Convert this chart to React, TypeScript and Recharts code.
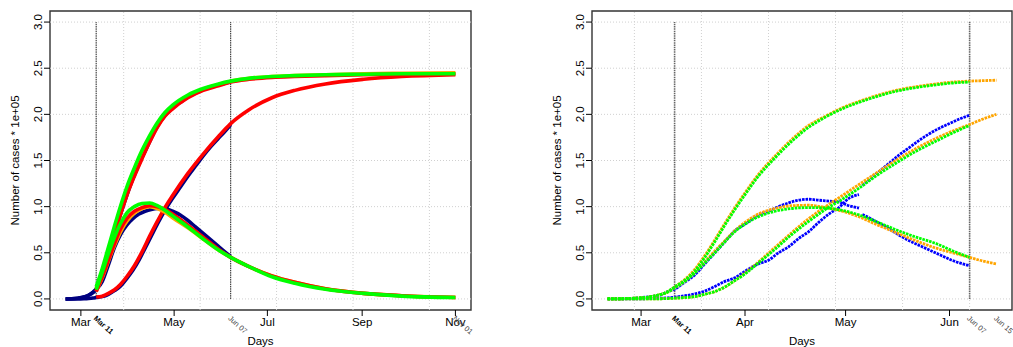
import { LineChart, Line, XAxis, YAxis, ReferenceLine, ReferenceArea } from "recharts"

const FONT = '"Liberation Sans", Arial, Helvetica, sans-serif'

// y axis shared by both panels (cases * 1e+05)
const Y_TICKS = [0, 0.5, 1, 1.5, 2, 2.5, 3]
const Y_DOMAIN = [-0.12, 3.12]

// days counted from Mar 1 2020
const LEFT_MONTHS = [0, 61, 122, 184, 245]
const LEFT_MONTH_LABELS = ["Mar", "May", "Jul", "Sep", "Nov"]
const LEFT_MARKS = [10, 98, 245]
const LEFT_MARK_LABELS = ["Mar 11", "Jun 07", "Nov 01"]
const LEFT_GRID = [28, 78, 128, 178, 228]
const LEFT_VLINES = [10, 98]

const RIGHT_MONTHS = [0, 31, 61, 92]
const RIGHT_MONTH_LABELS = ["Mar", "Apr", "May", "Jun"]
const RIGHT_MARKS = [10, 98, 106]
const RIGHT_MARK_LABELS = ["Mar 11", "Jun 07", "Jun 15"]
const RIGHT_GRID = [-2, 18, 38, 58, 78, 98]
const RIGHT_VLINES = [10, 98]

// ---- left panel: fits out to Nov 01
const LEFT_FIT_DAYS = [10, 14, 18, 22, 26, 30, 35, 40, 45, 50, 55, 60, 70, 80, 90, 98, 110, 125, 140, 160, 185, 210, 245]
const leftRedTotal = [0.1, 0.27, 0.48, 0.7, 0.92, 1.12, 1.33, 1.52, 1.7, 1.86, 1.98, 2.06, 2.18, 2.26, 2.31, 2.35, 2.38, 2.4, 2.41, 2.42, 2.43, 2.435, 2.44]
const leftOrangeTotal = [0.11, 0.29, 0.5, 0.72, 0.94, 1.14, 1.35, 1.54, 1.72, 1.87, 1.99, 2.07, 2.19, 2.27, 2.32, 2.36, 2.39, 2.41, 2.42, 2.43, 2.44, 2.445, 2.45]
const leftGreenTotal = [0.13, 0.33, 0.56, 0.79, 1.01, 1.21, 1.42, 1.61, 1.77, 1.91, 2.02, 2.1, 2.21, 2.28, 2.33, 2.36, 2.39, 2.41, 2.42, 2.43, 2.435, 2.44, 2.44]
const leftRedRemoved = [0.02, 0.03, 0.06, 0.1, 0.16, 0.24, 0.36, 0.51, 0.68, 0.84, 0.99, 1.12, 1.36, 1.57, 1.76, 1.9, 2.05, 2.18, 2.26, 2.33, 2.38, 2.41, 2.43]
const leftRedActive = [0.08, 0.24, 0.42, 0.6, 0.76, 0.87, 0.95, 0.99, 1.01, 1.0, 0.97, 0.92, 0.8, 0.67, 0.54, 0.45, 0.35, 0.25, 0.18, 0.11, 0.06, 0.035, 0.015]
const leftOrangeActive = [0.08, 0.23, 0.41, 0.58, 0.73, 0.84, 0.93, 0.98, 1.0, 0.98, 0.94, 0.88, 0.77, 0.65, 0.53, 0.45, 0.35, 0.25, 0.18, 0.11, 0.06, 0.035, 0.017]
const leftGreenActive = [0.1, 0.29, 0.49, 0.67, 0.82, 0.93, 1.0, 1.035, 1.04, 1.01, 0.96, 0.9, 0.78, 0.65, 0.53, 0.45, 0.35, 0.24, 0.17, 0.105, 0.06, 0.03, 0.015]

// observed (navy), up to Jun 07
const LEFT_OBS_DAYS = [-10, -6, -2, 2, 5, 8, 10, 14, 18, 22, 26, 30, 34, 38, 42, 46, 50, 55, 60, 65, 70, 75, 80, 85, 90, 95, 98]
const leftNavyTotal = [0, 0.002, 0.008, 0.02, 0.04, 0.075, 0.11, 0.26, 0.47, 0.7, 0.92, 1.12, 1.3, 1.46, 1.6, 1.74, 1.87, 1.99, 2.07, 2.13, 2.19, 2.23, 2.27, 2.3, 2.32, 2.34, 2.35]
const leftNavyActive = [0, 0.002, 0.008, 0.02, 0.04, 0.07, 0.1, 0.19, 0.37, 0.56, 0.7, 0.8, 0.87, 0.92, 0.95, 0.97, 0.98, 0.98, 0.95, 0.91, 0.85, 0.78, 0.71, 0.64, 0.57, 0.5, 0.46]
const leftNavyRemoved = [0, 0, 0, 0.002, 0.005, 0.01, 0.015, 0.025, 0.05, 0.09, 0.14, 0.22, 0.31, 0.42, 0.55, 0.68, 0.81, 0.96, 1.09, 1.21, 1.33, 1.44, 1.55, 1.65, 1.74, 1.83, 1.89]

// ---- right panel: zoom to Jun 15
const RIGHT_FIT_DAYS = [-10, -5, 0, 3, 6, 8, 10, 13, 16, 19, 22, 25, 28, 31, 35, 40, 45, 50, 55, 60, 65, 70, 76, 82, 88, 93, 98]
const RIGHT_LONG_DAYS = [-10, -5, 0, 3, 6, 8, 10, 13, 16, 19, 22, 25, 28, 31, 35, 40, 45, 50, 55, 60, 65, 70, 76, 82, 88, 93, 98, 102, 106]
const rightGreenTotal = [0, 0.003, 0.012, 0.025, 0.05, 0.08, 0.13, 0.2, 0.3, 0.45, 0.62, 0.8, 0.97, 1.13, 1.33, 1.53, 1.71, 1.86, 1.97, 2.06, 2.13, 2.19, 2.25, 2.29, 2.32, 2.34, 2.35]
const rightOrangeTotal = [0, 0.003, 0.012, 0.025, 0.05, 0.08, 0.13, 0.21, 0.32, 0.47, 0.64, 0.82, 0.99, 1.15, 1.35, 1.55, 1.73, 1.88, 1.98, 2.07, 2.14, 2.2, 2.26, 2.3, 2.33, 2.35, 2.36, 2.365, 2.37]
const rightGreenActive = [0, 0.003, 0.012, 0.025, 0.05, 0.075, 0.12, 0.19, 0.28, 0.39, 0.5, 0.62, 0.73, 0.81, 0.89, 0.95, 0.98, 0.99, 0.985, 0.96, 0.91, 0.84, 0.75, 0.67, 0.6, 0.52, 0.45]
const rightOrangeActive = [0, 0.003, 0.012, 0.025, 0.05, 0.075, 0.12, 0.19, 0.29, 0.4, 0.52, 0.63, 0.74, 0.83, 0.92, 0.98, 1.01, 1.015, 0.99, 0.95, 0.89, 0.81, 0.72, 0.63, 0.55, 0.5, 0.45, 0.41, 0.38]
const rightGreenRemoved = [0, 0, 0, 0.001, 0.002, 0.004, 0.008, 0.015, 0.025, 0.05, 0.08, 0.13, 0.2, 0.27, 0.39, 0.54, 0.7, 0.84, 0.97, 1.08, 1.2, 1.33, 1.47, 1.6, 1.71, 1.8, 1.88]
const rightOrangeRemoved = [0, 0, 0, 0.001, 0.002, 0.004, 0.008, 0.015, 0.025, 0.05, 0.08, 0.13, 0.2, 0.28, 0.4, 0.56, 0.72, 0.87, 1.0, 1.12, 1.24, 1.36, 1.5, 1.63, 1.74, 1.82, 1.89, 1.95, 2.0]

// observed (blue), split where the series jumps (May 06)
const RIGHT_OBS_DAYS_A = [-10, -5, 0, 3, 6, 8, 10, 13, 16, 19, 22, 25, 28, 31, 35, 38, 41, 44, 47, 50, 53, 56, 59, 62, 65]
const rightBlueActiveA = [0, 0.002, 0.014, 0.027, 0.046, 0.08, 0.106, 0.18, 0.26, 0.38, 0.5, 0.62, 0.74, 0.81, 0.91, 0.95, 1.0, 1.04, 1.07, 1.08, 1.07, 1.06, 1.05, 1.01, 0.985]
const rightBlueRemovedA = [0, 0, 0.001, 0.004, 0.008, 0.012, 0.019, 0.034, 0.054, 0.085, 0.135, 0.19, 0.23, 0.3, 0.38, 0.42, 0.5, 0.565, 0.655, 0.73, 0.83, 0.92, 0.99, 1.09, 1.13]
const RIGHT_OBS_DAYS_B = [66, 68, 71, 74, 77, 80, 83, 86, 89, 92, 95, 98]
const rightBlueActiveB = [0.915, 0.88, 0.82, 0.76, 0.69, 0.63, 0.58, 0.53, 0.48, 0.43, 0.39, 0.36]
const rightBlueRemovedB = [1.23, 1.29, 1.38, 1.47, 1.56, 1.64, 1.72, 1.79, 1.85, 1.9, 1.95, 1.99]

const NAVY = "#000080"
const RED = "#ff0000"
const ORANGE = "#ffa500"
const GREEN = "#00ff00"
const BLUE = "#0000ff"

const PLOT_TOP = 11
const PLOT_BOTTOM = 310

type Series = { key: string; days: number[]; vals: number[]; color: string }

// draw order = list order
const leftSeries: Series[] = [
  { key: "nt", days: LEFT_OBS_DAYS, vals: leftNavyTotal, color: NAVY },
  { key: "na", days: LEFT_OBS_DAYS, vals: leftNavyActive, color: NAVY },
  { key: "nr", days: LEFT_OBS_DAYS, vals: leftNavyRemoved, color: NAVY },
  { key: "rr", days: LEFT_FIT_DAYS, vals: leftRedRemoved, color: RED },
  { key: "ot", days: LEFT_FIT_DAYS, vals: leftOrangeTotal, color: ORANGE },
  { key: "oa", days: LEFT_FIT_DAYS, vals: leftOrangeActive, color: ORANGE },
  { key: "rt", days: LEFT_FIT_DAYS, vals: leftRedTotal, color: RED },
  { key: "ra", days: LEFT_FIT_DAYS, vals: leftRedActive, color: RED },
  { key: "gt", days: LEFT_FIT_DAYS, vals: leftGreenTotal, color: GREEN },
  { key: "ga", days: LEFT_FIT_DAYS, vals: leftGreenActive, color: GREEN },
]

const rightSeries: Series[] = [
  { key: "ba1", days: RIGHT_OBS_DAYS_A, vals: rightBlueActiveA, color: BLUE },
  { key: "br1", days: RIGHT_OBS_DAYS_A, vals: rightBlueRemovedA, color: BLUE },
  { key: "ba2", days: RIGHT_OBS_DAYS_B, vals: rightBlueActiveB, color: BLUE },
  { key: "br2", days: RIGHT_OBS_DAYS_B, vals: rightBlueRemovedB, color: BLUE },
  { key: "ot", days: RIGHT_LONG_DAYS, vals: rightOrangeTotal, color: ORANGE },
  { key: "oa", days: RIGHT_LONG_DAYS, vals: rightOrangeActive, color: ORANGE },
  { key: "or", days: RIGHT_LONG_DAYS, vals: rightOrangeRemoved, color: ORANGE },
  { key: "gt", days: RIGHT_FIT_DAYS, vals: rightGreenTotal, color: GREEN },
  { key: "ga", days: RIGHT_FIT_DAYS, vals: rightGreenActive, color: GREEN },
  { key: "gr", days: RIGHT_FIT_DAYS, vals: rightGreenRemoved, color: GREEN },
]

function toPoints(days: number[], vals: number[]) {
  return days.map((d, i) => ({ d, v: vals[i] }))
}

function makeXTick(months: number[], monthLabels: string[], marks: number[], markLabels: string[]) {
  return (props: any) => {
    const { x, payload } = props
    const mi = months.indexOf(payload.value)
    const ki = marks.indexOf(payload.value)
    const tx = x - 3
    const ty = PLOT_BOTTOM + 9
    return (
      <g>
        {mi >= 0 && (
          <>
            <line x1={x} x2={x} y1={PLOT_BOTTOM} y2={PLOT_BOTTOM + 6} stroke="#000" />
            <text x={x} y={PLOT_BOTTOM + 16} textAnchor="middle" fontSize={11.5} fontFamily={FONT} fill="#000">
              {monthLabels[mi]}
            </text>
          </>
        )}
        {ki >= 0 && (
          <text
            x={tx}
            y={ty}
            transform={`rotate(42 ${tx} ${ty})`}
            fontSize={7.5}
            fontFamily={FONT}
            fontWeight={ki === 0 ? "bold" : "normal"}
            fill={ki === 0 ? "#000" : "#444"}
          >
            {markLabels[ki]}
          </text>
        )}
      </g>
    )
  }
}

function YTick(props: any) {
  const { x, y, payload } = props
  return (
    <text x={x} y={y} transform={`rotate(-90 ${x} ${y})`} textAnchor="middle" fontSize={11.5} fontFamily={FONT} fill="#000">
      {payload.value.toFixed(1)}
    </text>
  )
}

function yLabel(props: any) {
  const vb = props.viewBox
  const x = vb.x + vb.width - 31
  const y = vb.y + vb.height / 2
  return (
    <text x={x} y={y} transform={`rotate(-90 ${x} ${y})`} textAnchor="middle" fontSize={11.5} fontFamily={FONT} fill="#000">
      Number of cases * 1e+05
    </text>
  )
}

function xLabel(props: any) {
  const vb = props.viewBox
  return (
    <text x={vb.x + vb.width / 2} y={344.5} textAnchor="middle" fontSize={11.5} fontFamily={FONT} fill="#000">
      Days
    </text>
  )
}

type PanelProps = {
  left: number
  width: number
  axisWidth: number
  marginRight: number
  xDomain: number[]
  months: number[]
  monthLabels: string[]
  marks: number[]
  markLabels: string[]
  grid: number[]
  vlines: number[]
  vlineColor: string
  vlineWidth: number
  series: Series[]
  lineWidth: number
  dash?: string
}

function Panel(p: PanelProps) {
  const xTicks = Array.from(new Set([...p.months, ...p.marks])).sort((a, b) => a - b)
  return (
    <div style={{ position: "absolute", left: p.left, top: 0 }}>
      <LineChart width={p.width} height={347} margin={{ top: PLOT_TOP, right: p.marginRight, bottom: 0, left: 0 }}>
        <XAxis
          type="number"
          dataKey="d"
          domain={p.xDomain}
          allowDataOverflow
          ticks={xTicks}
          interval={0}
          tickLine={false}
          axisLine={false}
          height={37}
          tick={makeXTick(p.months, p.monthLabels, p.marks, p.markLabels)}
          label={{ content: xLabel }}
        />
        <YAxis
          type="number"
          domain={Y_DOMAIN}
          allowDataOverflow
          ticks={Y_TICKS}
          interval={0}
          width={p.axisWidth}
          tickSize={6}
          tickMargin={2}
          tickLine={{ stroke: "#000" }}
          axisLine={false}
          tick={<YTick />}
          label={{ content: yLabel }}
        />
        {Y_TICKS.map((t) => (
          <ReferenceLine key={"h" + t} y={t} stroke="#d0d0d0" strokeDasharray="1 2" />
        ))}
        {p.grid.map((g) => (
          <ReferenceLine key={"v" + g} x={g} stroke="#d0d0d0" strokeDasharray="1 2" />
        ))}
        {p.vlines.map((d) => (
          <ReferenceLine
            key={"m" + d}
            segment={[{ x: d, y: 0 }, { x: d, y: 3 }]}
            stroke={p.vlineColor}
            strokeWidth={p.vlineWidth}
            strokeDasharray="1.5 0.8"
          />
        ))}
        <ReferenceArea x1={p.xDomain[0]} x2={p.xDomain[1]} y1={Y_DOMAIN[0]} y2={Y_DOMAIN[1]} fill="none" stroke="#333" strokeWidth={1.4} fillOpacity={0} />
        {p.series.map((s) => (
          <Line
            key={s.key}
            data={toPoints(s.days, s.vals)}
            dataKey="v"
            type="monotone"
            stroke={s.color}
            strokeWidth={p.lineWidth}
            strokeDasharray={p.dash}
            strokeLinejoin="round"
            dot={false}
            activeDot={false}
            isAnimationActive={false}
          />
        ))}
      </LineChart>
    </div>
  )
}

export default function App() {
  return (
    <div style={{ position: "relative", width: 1013, height: 347, background: "#fff", fontFamily: FONT }}>
      <style>{"body{margin:0}"}</style>
      <Panel
        left={0}
        width={500}
        axisWidth={50}
        marginRight={29}
        xDomain={[-20.2, 255.2]}
        months={LEFT_MONTHS}
        monthLabels={LEFT_MONTH_LABELS}
        marks={LEFT_MARKS}
        markLabels={LEFT_MARK_LABELS}
        grid={LEFT_GRID}
        vlines={LEFT_VLINES}
        vlineColor="#000"
        vlineWidth={0.9}
        series={leftSeries}
        lineWidth={3.6}
      />
      <Panel
        left={520}
        width={493}
        axisWidth={72}
        marginRight={1}
        xDomain={[-14.64, 110.64]}
        months={RIGHT_MONTHS}
        monthLabels={RIGHT_MONTH_LABELS}
        marks={RIGHT_MARKS}
        markLabels={RIGHT_MARK_LABELS}
        grid={RIGHT_GRID}
        vlines={RIGHT_VLINES}
        vlineColor="#666"
        vlineWidth={1.6}
        series={rightSeries}
        lineWidth={2.8}
        dash="2.6 0.9"
      />
    </div>
  )
}
